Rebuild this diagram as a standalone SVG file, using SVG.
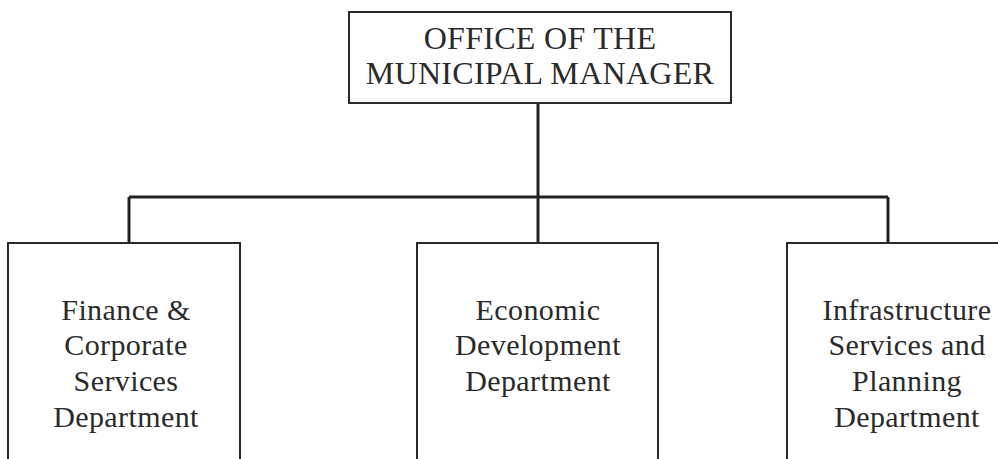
<svg xmlns="http://www.w3.org/2000/svg" width="998" height="459" viewBox="0 0 998 459">
  <style>
    .box { fill: #ffffff; stroke: #2a2a2a; stroke-width: 2; }
    .wire { fill: none; stroke: #222222; stroke-width: 3; }
    .label { font-family: "Liberation Serif", "DejaVu Serif", serif; fill: #2a2a2a; text-anchor: middle; }
    .head { font-size: 32px; letter-spacing: 0.3px; }
    .dept { font-size: 30px; letter-spacing: 0.4px; }
  </style>
  <rect width="998" height="459" fill="#ffffff"/>

  <!-- reporting lines -->
  <g id="connectors">
    <path class="wire" d="M538 103 V243"/>
    <path class="wire" d="M129 197 H888"/>
    <path class="wire" d="M129 197 V243"/>
    <path class="wire" d="M888 197 V243"/>
  </g>

  <g id="municipal-manager">
    <rect class="box" x="349" y="12" width="382" height="91"/>
    <text class="label head" x="540" y="49">OFFICE OF THE</text>
    <text class="label head" x="540" y="84">MUNICIPAL MANAGER</text>
  </g>

  <g id="finance-corporate">
    <rect class="box" x="8" y="243" width="232" height="230"/>
    <text class="label dept" x="126" y="320">Finance &amp;</text>
    <text class="label dept" x="126" y="355">Corporate</text>
    <text class="label dept" x="126" y="391">Services</text>
    <text class="label dept" x="126" y="427">Department</text>
  </g>

  <g id="economic-development">
    <rect class="box" x="417" y="243" width="241" height="230"/>
    <text class="label dept" x="538" y="320">Economic</text>
    <text class="label dept" x="538" y="355">Development</text>
    <text class="label dept" x="538" y="391">Department</text>
  </g>

  <g id="infrastructure-planning">
    <rect class="box" x="787" y="243" width="240" height="230"/>
    <text class="label dept" x="907" y="320">Infrastructure</text>
    <text class="label dept" x="907" y="355">Services and</text>
    <text class="label dept" x="907" y="391">Planning</text>
    <text class="label dept" x="907" y="427">Department</text>
  </g>
</svg>
